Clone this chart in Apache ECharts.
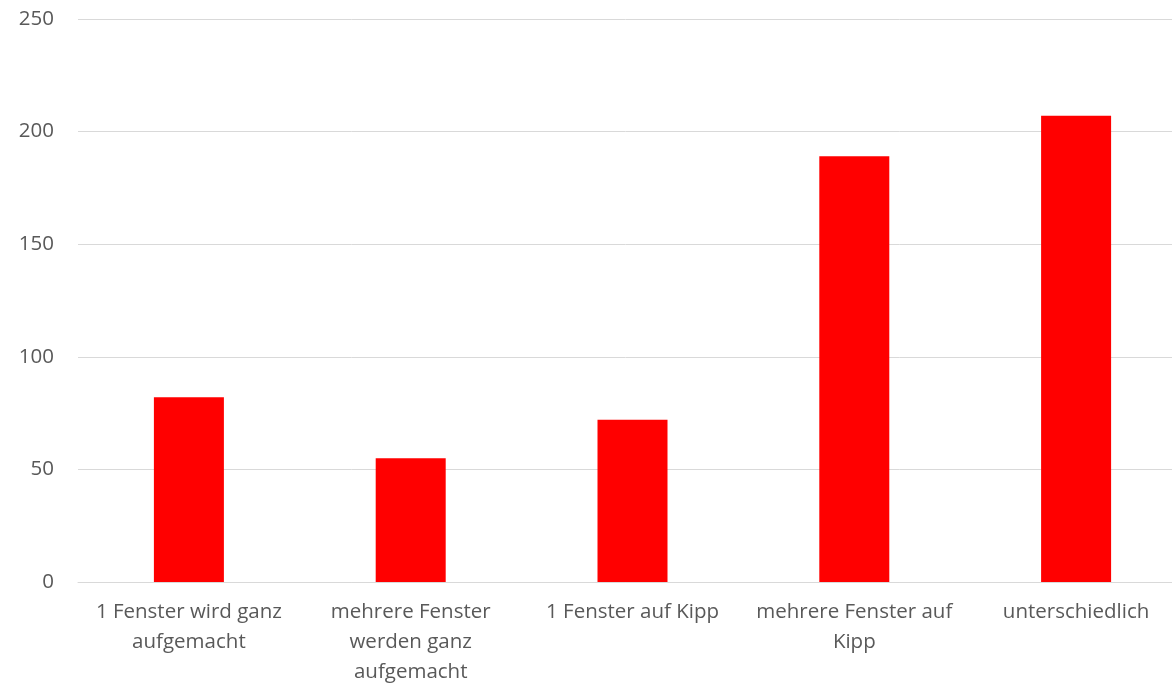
<!DOCTYPE html>
<html><head><meta charset="utf-8">
<script src="https://cdn.jsdelivr.net/npm/echarts@6/dist/echarts.min.js"></script>
<style>html,body{margin:0;padding:0;background:#fff}#c{width:1172px;height:686px}</style>
</head><body><div id="c"></div>
<script>
const categories = ["1 Fenster wird ganz\naufgemacht", "mehrere Fenster\nwerden ganz\naufgemacht", "1 Fenster auf Kipp", "mehrere Fenster auf\nKipp", "unterschiedlich"];
const values = [82, 55, 72, 189, 207];
const yTicks = [0, 50, 100, 150, 200, 250];
const chart = echarts.init(document.getElementById('c'));
chart.setOption({
  animation: false,
  grid: {left: 78, width: 1109, top: 19, height: 563, containLabel: false, outerBoundsMode: 'none'},
  xAxis: {
    type: 'category', data: categories,
    axisLine: {lineStyle: {color: '#d9d9d9', width: 1}},
    axisTick: {show: false},
    axisLabel: {color: '#595959', fontSize: 20.5, fontFamily: 'Open Sans', lineHeight: 30, margin: 15.5, interval: 0}
  },
  yAxis: {
    type: 'value', min: yTicks[0], max: yTicks[yTicks.length - 1], interval: 50,
    axisLine: {show: false}, axisTick: {show: false},
    splitLine: {lineStyle: {color: '#d9d9d9', width: 1}},
    axisLabel: {color: '#595959', fontSize: 20.5, fontFamily: 'Open Sans', margin: 24}
  },
  series: [{type: 'bar', data: values, barWidth: 70, itemStyle: {color: '#ff0000'}}]
});
</script></body></html>
